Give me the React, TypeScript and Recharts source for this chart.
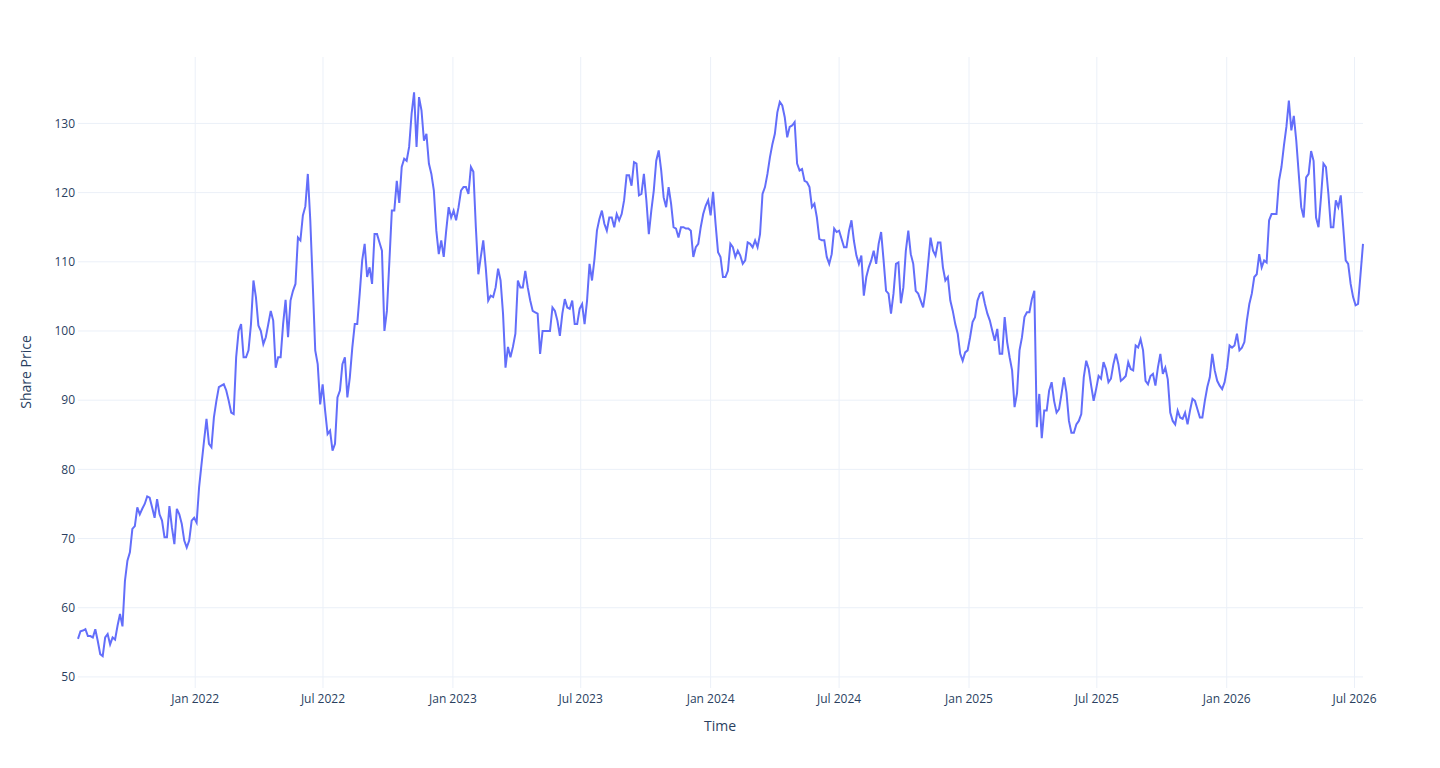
import { CartesianGrid, Label, Line, LineChart, XAxis, YAxis } from "recharts"

const DAY = 24 * 60 * 60 * 1000
const STEP = 3.5 * DAY

// twice-weekly closes, first one on this date
const firstDate = "2021-07-19"

const closes2021 = [
  55.5, 56.6, 56.7, 56.9, 55.9, 55.9, 55.7, 56.9, 55.2, 53.3, 53.0, 55.7,
  56.2, 54.7, 55.7, 55.4, 57.4, 59.1, 57.3, 63.9, 66.8, 68.0, 71.4, 71.8,
  74.5, 73.5, 74.3, 75.0, 76.1, 75.9, 74.5, 73.0, 75.7, 73.5, 72.6, 70.2,
  70.2, 74.7, 71.6, 69.2, 74.3, 73.5, 72.1, 69.7, 68.7, 69.7, 72.6, 73.0,
]
const closes2022 = [
  72.3, 77.4, 80.8, 84.1, 87.3, 83.7, 83.2, 87.5, 89.9, 91.9, 92.1, 92.3,
  91.4, 89.9, 88.2, 88.0, 96.2, 100.0, 101.0, 96.2, 96.2, 97.2, 101.0, 107.3,
  104.9, 100.8, 100.0, 98.1, 99.1, 101.0, 102.9, 101.5, 94.7, 96.2, 96.2, 101.0,
  104.5, 99.1, 104.4, 105.8, 106.8, 113.5, 113.1, 116.7, 118.0, 122.7, 116.0, 106.8,
  97.2, 95.2, 89.4, 92.3, 88.5, 85.1, 85.6, 82.7, 83.7, 90.4, 91.4, 95.2,
  96.2, 90.4, 93.3, 97.6, 101.0, 101.0, 105.4, 110.2, 112.6, 107.8, 109.2, 106.8,
  114.0, 114.0, 112.8, 111.6, 100.0, 102.9, 110.0, 117.4, 117.4, 121.7, 118.5, 123.7,
  124.9, 124.6, 126.6, 131.4, 134.5, 126.6, 133.8, 131.9, 127.5, 128.5, 124.2, 122.7,
  120.3, 114.5, 111.1, 113.1, 110.7, 114.5, 117.9, 116.4,
]
const closes2023 = [
  117.4, 116.0, 117.9, 120.3, 120.8, 120.8, 119.8, 123.7, 123.0, 115.0, 108.2, 110.7,
  113.1, 109.2, 104.4, 105.1, 104.9, 106.3, 109.0, 107.3, 102.5, 94.7, 97.7, 96.2,
  97.7, 99.6, 107.3, 106.3, 106.3, 108.7, 106.3, 104.4, 102.9, 102.7, 102.5, 96.7,
  100.0, 100.0, 100.0, 100.0, 103.4, 102.9, 101.5, 99.3, 102.5, 104.6, 103.4, 103.2,
  104.4, 101.0, 101.0, 103.2, 103.9, 101.0, 104.4, 109.7, 107.3, 110.4, 114.5, 116.2,
  117.4, 115.5, 114.5, 116.4, 116.4, 115.0, 116.9, 116.0, 116.9, 118.9, 122.5, 122.5,
  121.0, 124.4, 124.2, 119.6, 119.8, 122.7, 118.9, 114.0, 117.4, 120.3, 124.6, 126.1,
  123.2, 119.3, 117.9, 120.8, 118.4, 115.0, 114.8, 113.5, 115.0, 115.0, 114.8, 114.8,
  114.5, 110.7, 112.1, 112.6, 115.0, 116.9, 118.1, 118.9,
]
const closes2024 = [
  116.7, 120.1, 115.5, 111.4, 110.7, 107.8, 107.8, 108.7, 112.6, 112.1, 110.7, 111.6,
  110.9, 109.7, 110.2, 112.8, 112.6, 112.1, 113.1, 112.1, 114.0, 119.8, 120.8, 122.7,
  125.1, 127.0, 128.5, 131.6, 133.1, 132.6, 130.9, 128.0, 129.5, 129.7, 130.2, 124.2,
  123.2, 123.4, 121.7, 121.5, 120.8, 117.9, 118.4, 116.4, 113.3, 113.1, 113.1, 110.7,
  109.7, 111.1, 114.8, 114.3, 114.5, 113.3, 112.1, 112.1, 114.5, 116.0, 113.0, 110.9,
  109.7, 110.9, 105.1, 107.8, 109.2, 110.2, 111.6, 109.7, 112.6, 114.3, 110.2, 105.8,
  105.4, 102.5, 105.4, 109.7, 109.9, 104.0, 106.3, 111.6, 114.5, 111.1, 109.7, 105.8,
  105.4, 104.4, 103.4, 105.8, 109.7, 113.5, 111.6, 110.9, 112.8, 112.8, 109.2, 107.3,
  107.8, 104.4, 102.9, 101.0, 99.6, 96.7, 95.7, 96.9,
]
const closes2025 = [
  97.2, 99.1, 101.3, 102.0, 104.4, 105.4, 105.6, 103.9, 102.5, 101.5, 100.0, 98.6,
  100.3, 96.7, 96.7, 102.0, 98.4, 96.2, 94.3, 89.0, 91.0, 97.2, 99.1, 102.0,
  102.7, 102.7, 104.6, 105.8, 86.1, 90.9, 84.5, 88.5, 88.5, 91.4, 92.6, 89.9,
  88.2, 88.7, 90.9, 93.3, 91.1, 87.0, 85.3, 85.3, 86.5, 87.0, 88.0, 93.3,
  95.7, 94.5, 92.1, 89.9, 91.6, 93.5, 93.1, 95.5, 94.5, 92.6, 93.1, 95.2,
  96.7, 95.2, 92.8, 93.1, 93.5, 95.5, 94.5, 94.3, 97.9, 97.6, 98.8, 97.2,
  92.8, 92.3, 93.5, 93.8, 92.1, 94.7, 96.7, 93.8, 94.7, 93.0, 88.2, 87.0,
  86.5, 88.5, 87.5, 87.3, 88.2, 86.5, 88.5, 90.2, 89.9, 88.7, 87.5, 87.5,
  89.9, 91.9, 93.3, 96.7, 94.3, 92.8, 92.1, 91.6,
]
const closes2026 = [
  92.6, 94.7, 97.9, 97.6, 97.9, 99.6, 97.2, 97.6, 98.4, 101.5, 103.9, 105.4,
  107.8, 108.2, 111.1, 109.2, 110.2, 109.9, 116.0, 116.9, 116.9, 116.9, 121.7, 123.7,
  126.8, 129.5, 133.3, 129.0, 131.1, 127.5, 122.7, 117.9, 116.4, 122.2, 122.7, 126.0,
  124.6, 116.4, 115.0, 119.3, 124.2, 123.7, 119.8, 115.0, 115.0, 118.9, 117.9, 119.6,
  115.0, 110.2, 109.7, 106.8, 104.9, 103.7, 103.9, 108.2, 112.6,
]

const xTickDates = [
  "2022-01-01", "2022-07-01", "2023-01-01", "2023-07-01", "2024-01-01",
  "2024-07-01", "2025-01-01", "2025-07-01", "2026-01-01", "2026-07-01",
]
const xTickLabels = [
  "Jan 2022", "Jul 2022", "Jan 2023", "Jul 2023", "Jan 2024",
  "Jul 2024", "Jan 2025", "Jul 2025", "Jan 2026", "Jul 2026",
]
const yTicks = [50, 60, 70, 80, 90, 100, 110, 120, 130]

const allCloses = [...closes2021, ...closes2022, ...closes2023, ...closes2024, ...closes2025, ...closes2026]
const t0 = Date.parse(firstDate + "T00:00:00Z")
const data = allCloses.map((price, i) => ({ t: t0 + i * STEP, price }))

const xTicks = xTickDates.map((d) => Date.parse(d + "T00:00:00Z"))

const fontFamily = '"Open Sans", "Noto Sans", sans-serif'
const textColor = "#2a3f5f"

export default function App() {
  return (
    <div style={{ position: "absolute", left: 0, top: 0, background: "#fff" }}>
      <LineChart width={1440} height={768} data={data} margin={{ top: 57, right: 77, bottom: 50, left: 18 }}>
        <CartesianGrid stroke="#EBF0F8" strokeWidth={1} syncWithTicks />
        <XAxis
          dataKey="t"
          type="number"
          scale="time"
          domain={[data[0].t, data[data.length - 1].t]}
          ticks={xTicks}
          tickFormatter={(v: number) => xTickLabels[xTicks.indexOf(v)] ?? ""}
          axisLine={false}
          tickLine={false}
          tickSize={0}
          tickMargin={6}
          height={30}
          tick={{ fill: textColor, fontSize: 12, fontFamily }}
        >
          <Label
            content={() => (
              <text x={720} y={731} textAnchor="middle" fill={textColor} fontSize={14} fontFamily={fontFamily}>
                Time
              </text>
            )}
          />
        </XAxis>
        <YAxis
          type="number"
          domain={[48.4, 139.6]}
          ticks={yTicks}
          allowDataOverflow
          axisLine={false}
          tickLine={false}
          tickSize={0}
          tickMargin={3}
          width={60}
          tick={{ fill: textColor, fontSize: 12, fontFamily }}
        >
          <Label
            content={() => (
              <text
                x={31}
                y={372}
                transform="rotate(-90, 31, 372)"
                textAnchor="middle"
                fill={textColor}
                fontSize={14}
                fontFamily={fontFamily}
              >
                Share Price
              </text>
            )}
          />
        </YAxis>
        <Line
          type="linear"
          dataKey="price"
          stroke="#636efa"
          strokeWidth={2}
          dot={false}
          isAnimationActive={false}
        />
      </LineChart>
    </div>
  )
}
